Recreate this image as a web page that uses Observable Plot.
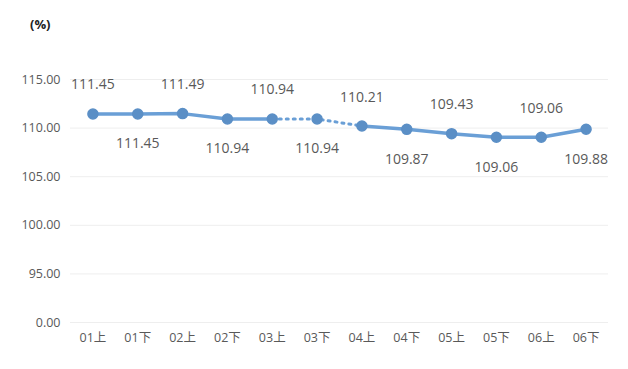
<!DOCTYPE html>
<html><head><meta charset="utf-8">
<script src="https://cdn.jsdelivr.net/npm/d3@7"></script>
<script src="https://cdn.jsdelivr.net/npm/@observablehq/plot@0.6"></script>
<style>
body{margin:0;background:#fff;}
#wrap{position:relative;width:628px;height:369px;}
#unit{position:absolute;left:30px;top:15px;font:bold 13px "Open Sans","Noto Sans CJK SC",sans-serif;color:#222;}
</style></head>
<body><div id="wrap"><div id="unit">(%)</div></div>
<script>
const categories = ["01上","01下","02上","02下","03上","03下","04上","04下","05上","05下","06上","06下"];
const values = [111.45,111.45,111.49,110.94,110.94,110.94,110.21,109.87,109.43,109.06,109.06,109.88];
const labelSide = ["above","below","above","below","above","below","above","below","above","below","above","below"];
const yTicks = [90,95,100,105,110,115];
const yTickLabels = ["0.00","95.00","100.00","105.00","110.00","115.00"];
const dottedFrom = 4, dottedTo = 6;

const data = categories.map((c,i)=>({cat:c, value:values[i], side:labelSide[i], i}));
const font = '"Open Sans","Noto Sans CJK SC",sans-serif';
const blue = "#6a9fd6", dot = "#5b8fc6", gray = "#595959";

const chart = Plot.plot({
  width: 628, height: 369,
  marginLeft: 70, marginRight: 20, marginTop: 79, marginBottom: 47,
  style: {fontFamily: font, background: "transparent"},
  x: {type: "point", domain: categories, padding: 0.5, round: false, label: null},
  y: {domain: [90,115], label: null},
  marks: [
    Plot.ruleY(yTicks, {stroke: "#eeeeee", strokeWidth: 1}),
    Plot.axisY({ticks: yTicks, tickSize: 0, tickPadding: 10, fontSize: 12.5, fill: gray,
      tickFormat: d => yTickLabels[yTicks.indexOf(d)], label: null}),
    Plot.axisX({tickSize: 0, tickPadding: 11, fontSize: 12.5, fill: gray, label: null}),
    Plot.line(data.filter(d=>d.i<=dottedFrom), {x:"cat", y:"value", stroke: blue, strokeWidth: 3.5}),
    Plot.line(data.filter(d=>d.i>=dottedFrom && d.i<=dottedTo), {x:"cat", y:"value", stroke: blue, strokeWidth: 3, strokeDasharray: "2,5", strokeLinecap: "round"}),
    Plot.line(data.filter(d=>d.i>=dottedTo), {x:"cat", y:"value", stroke: blue, strokeWidth: 3.5}),
    Plot.dot(data, {x:"cat", y:"value", r: 5, fill: dot, stroke: dot}),
    Plot.text(data.filter(d=>d.side==="above"), {x:"cat", y:"value", text: d=>d.value.toFixed(2), dy: -29, fontSize: 14, fill: gray}),
    Plot.text(data.filter(d=>d.side==="below"), {x:"cat", y:"value", text: d=>d.value.toFixed(2), dy: 30, fontSize: 14, fill: gray})
  ]
});
document.getElementById("wrap").prepend(chart);
</script>
</body></html>
